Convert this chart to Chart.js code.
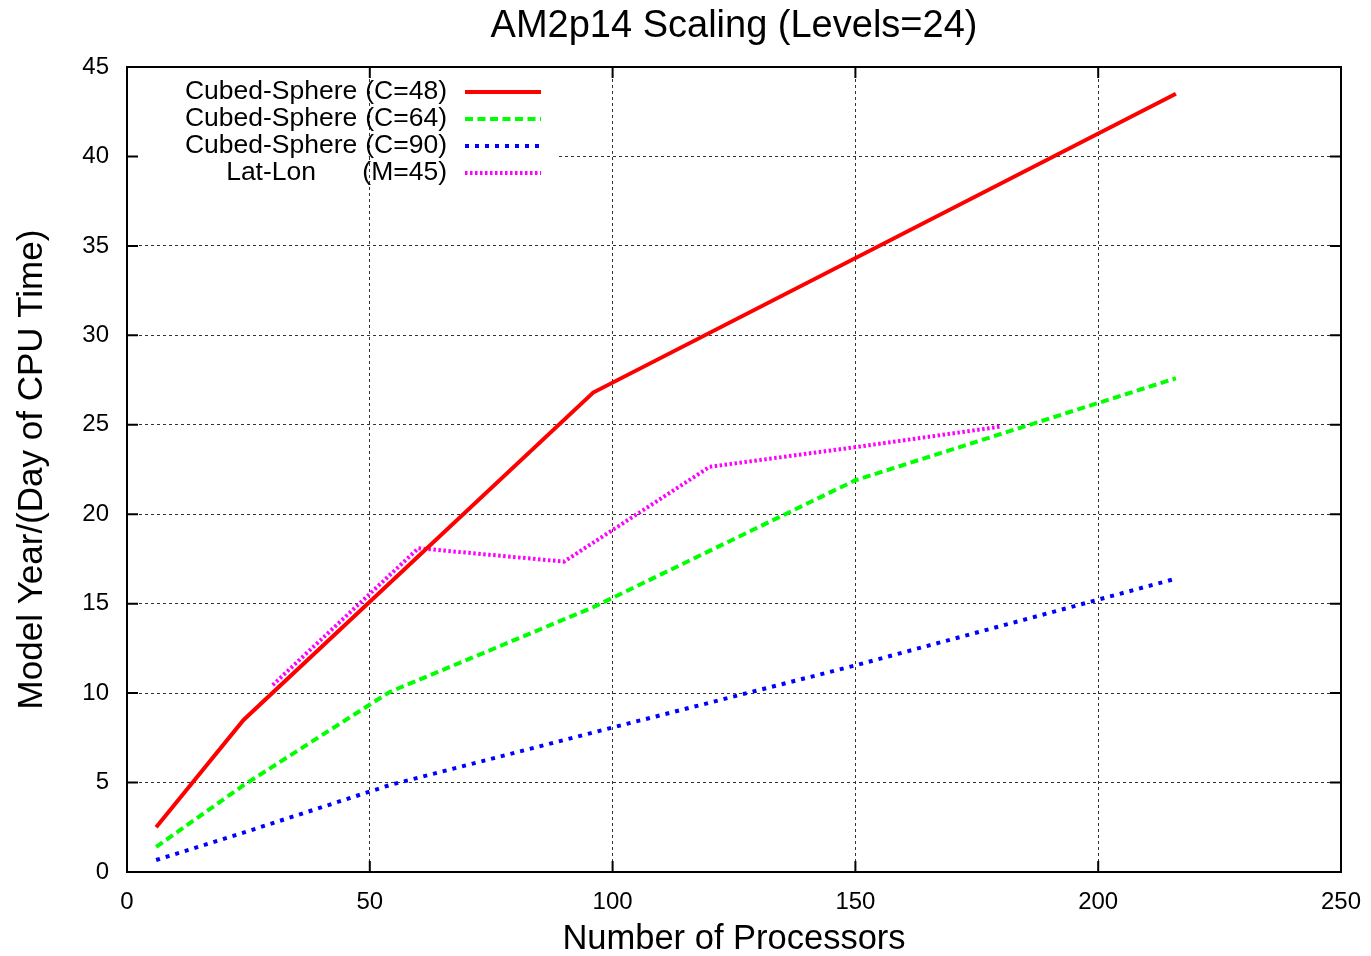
<!DOCTYPE html>
<html>
<head>
<meta charset="utf-8">
<title>AM2p14 Scaling</title>
<script src="https://cdn.jsdelivr.net/npm/chart.js@4.4.1/dist/chart.umd.min.js"></script>
<style>
  html, body { margin: 0; padding: 0; background: #fff; }
  #wrap { width: 1371px; height: 956px; }
</style>
</head>
<body>
<div id="wrap"><canvas id="scaling-chart"></canvas></div>
<script>
const FONT = '"Liberation Sans", Arial, Helvetica, sans-serif';

const chartTitle = 'AM2p14 Scaling (Levels=24)';
const xTitle = 'Number of Processors';
const yTitle = 'Model Year/(Day of CPU Time)';
const xTicks = [0, 50, 100, 150, 200, 250];
const yTicks = [0, 5, 10, 15, 20, 25, 30, 35, 40, 45];

// series
const cs48Procs = [6, 24, 96, 216];
const cs48Speed = [2.5, 8.5, 26.8, 43.5];
const cs64Procs = [6, 24, 54, 96, 150, 216];
const cs64Speed = [1.4, 4.85, 10.05, 14.8, 21.9, 27.6];
const cs90Procs = [6, 24, 54, 96, 150, 216];
const cs90Speed = [0.67, 2.2, 4.85, 7.8, 11.55, 16.4];
const latLonProcs = [30, 60, 90, 120, 150, 180];
const latLonSpeed = [10.45, 18.1, 17.35, 22.65, 23.75, 24.9];

const seriesNames = ['Cubed-Sphere', 'Cubed-Sphere', 'Cubed-Sphere', 'Lat-Lon'];
const seriesParams = ['(C=48)', '(C=64)', '(C=90)', '(M=45)'];
const seriesColors = ['#ff0000', '#00ff00', '#0000ff', '#ff00ff'];
const seriesDashes = [[], [8, 4.5], [4, 6], [2.5, 2.5]];

function toPoints(xs, ys) {
    return xs.map((x, i) => ({ x: x, y: ys[i] }));
}

const seriesData = [
    toPoints(cs48Procs, cs48Speed),
    toPoints(cs64Procs, cs64Speed),
    toPoints(cs90Procs, cs90Speed),
    toPoints(latLonProcs, latLonSpeed),
];

// gnuplot-like frame, inward ticks, title and key
const gnuplotLook = {
    id: 'gnuplotLook',
    beforeDatasetsDraw(chart) {
        const { ctx, chartArea, scales } = chart;
        const x50 = scales.x.getPixelForValue(50);
        // white key box, leaving the x=50 grid line showing
        ctx.save();
        ctx.fillStyle = '#fff';
        ctx.fillRect(chartArea.left + 2, 76, x50 - chartArea.left - 3, 110);
        ctx.fillRect(x50 + 1, 76, 557 - x50 - 1, 110);
        ctx.restore();
    },
    afterDatasetsDraw(chart) {
        const { ctx, chartArea, scales } = chart;
        const { left, right, top, bottom } = chartArea;
        const tickLen = 11;
        ctx.save();
        ctx.strokeStyle = '#000';
        ctx.lineWidth = 2;
        ctx.setLineDash([]);
        ctx.beginPath();
        xTicks.forEach((v) => {
            const px = scales.x.getPixelForValue(v);
            ctx.moveTo(px, bottom);
            ctx.lineTo(px, bottom - tickLen);
            ctx.moveTo(px, top);
            ctx.lineTo(px, top + tickLen);
        });
        yTicks.forEach((v) => {
            const py = scales.y.getPixelForValue(v);
            ctx.moveTo(left, py);
            ctx.lineTo(left + tickLen, py);
            ctx.moveTo(right, py);
            ctx.lineTo(right - tickLen, py);
        });
        ctx.stroke();
        ctx.strokeRect(left, top, right - left, bottom - top);

        // title, centred over the plot area
        ctx.fillStyle = '#000';
        ctx.font = '38px ' + FONT;
        ctx.textAlign = 'center';
        ctx.textBaseline = 'middle';
        ctx.fillText(chartTitle, (left + right) / 2, 27);

        // key
        ctx.font = '26.5px ' + FONT;
        const paramRight = 447;
        let nameWidth = 0;
        seriesNames.forEach((n) => { nameWidth = Math.max(nameWidth, ctx.measureText(n).width); });
        const paramWidth = ctx.measureText('(C=48)').width;
        seriesNames.forEach((name, i) => {
            const rowY = 92 + i * 27;
            ctx.textAlign = 'right';
            ctx.fillText(seriesParams[i], paramRight, rowY);
            const nameCentre = paramRight - paramWidth - 8 - nameWidth / 2;
            ctx.textAlign = 'center';
            ctx.fillText(name, nameCentre, rowY);

            ctx.strokeStyle = seriesColors[i];
            ctx.lineWidth = 4;
            ctx.setLineDash(seriesDashes[i]);
            ctx.beginPath();
            ctx.moveTo(465, rowY);
            ctx.lineTo(541, rowY);
            ctx.stroke();
        });
        ctx.restore();
    },
};

const ctx = document.getElementById('scaling-chart').getContext('2d');

new Chart(ctx, {
    type: 'line',
    data: {
        datasets: seriesData.map((pts, i) => ({
            label: seriesNames[i] + ' ' + seriesParams[i],
            data: pts,
            borderColor: seriesColors[i],
            borderWidth: 4,
            borderDash: seriesDashes[i],
            borderCapStyle: 'butt',
            pointRadius: 0,
            fill: false,
            tension: 0,
        })),
    },
    options: {
        responsive: true,
        maintainAspectRatio: false,
        animation: false,
        layout: {
            padding: { top: 67, right: 30, left: 0, bottom: 0 },
        },
        plugins: {
            legend: { display: false },
            title: { display: false },
            tooltip: { enabled: false },
        },
        scales: {
            x: {
                type: 'linear',
                min: 0,
                max: 250,
                afterBuildTicks: (scale) => { scale.ticks = xTicks.map((v) => ({ value: v })); },
                afterFit: (scale) => {
                    scale.height = 84;
                    scale.paddingLeft = 0;
                    scale.paddingRight = 0;
                },
                ticks: {
                    color: '#000',
                    padding: 16,
                    maxRotation: 0,
                    font: { family: FONT, size: 24 },
                },
                grid: { color: '#333', lineWidth: 1, drawTicks: false },
                border: { display: false, dash: [3, 3] },
                title: {
                    display: true,
                    text: xTitle,
                    color: '#000',
                    font: { family: FONT, size: 34.5, lineHeight: 0.93 },
                    padding: { top: 0, bottom: 0 },
                },
            },
            y: {
                type: 'linear',
                min: 0,
                max: 45,
                afterBuildTicks: (scale) => { scale.ticks = yTicks.map((v) => ({ value: v })); },
                afterFit: (scale) => {
                    scale.width = 127;
                    scale.paddingTop = 0;
                    scale.paddingBottom = 0;
                },
                ticks: {
                    color: '#000',
                    padding: 18,
                    font: { family: FONT, size: 24 },
                },
                grid: { color: '#333', lineWidth: 1, drawTicks: false },
                border: { display: false, dash: [3, 3] },
                title: {
                    display: true,
                    text: yTitle,
                    color: '#000',
                    font: { family: FONT, size: 35, lineHeight: 1 },
                    padding: { top: 15, bottom: 0 },
                },
            },
        },
    },
    plugins: [gnuplotLook],
});
</script>
</body>
</html>
